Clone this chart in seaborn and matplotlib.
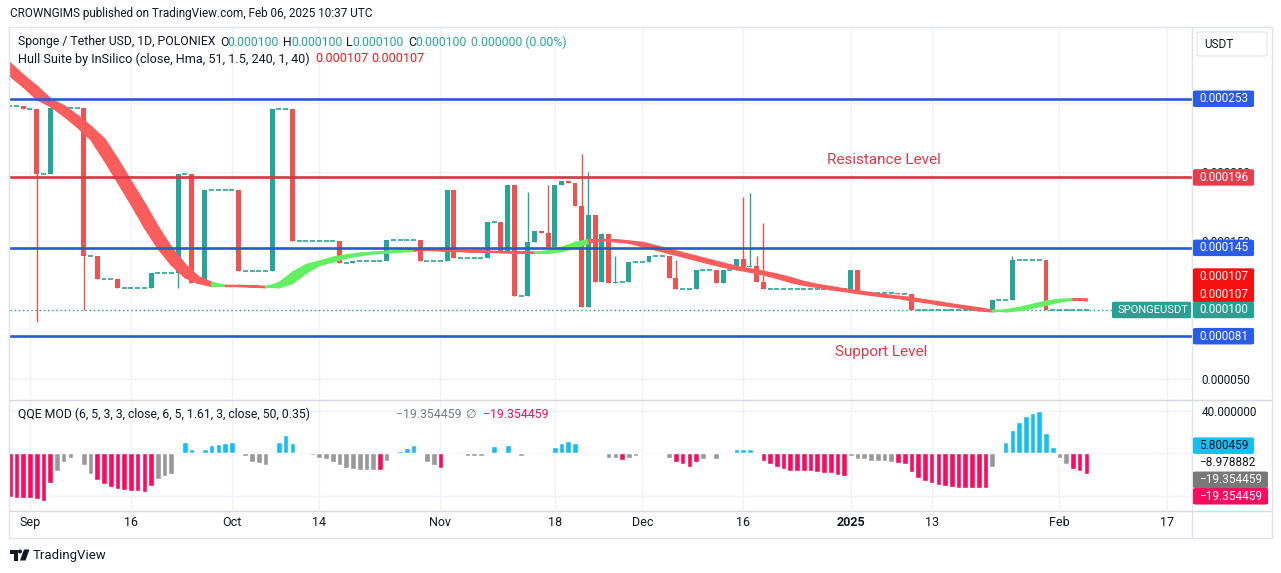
import numpy as np
import pandas as pd
import matplotlib
matplotlib.use("Agg")
import matplotlib.pyplot as plt
import seaborn as sns
from matplotlib.patches import Rectangle, FancyBboxPatch, Polygon, Ellipse
from matplotlib.lines import Line2D

W, H = 1281, 573

# days counted from 1 Sep 2024 (= 0), prices in millionths of a USDT
candle_day = [-1, 1, 3, 8, 10, 13, 18, 22, 24, 26, 31, 36, 39, 46, 48, 53, 58, 62, 63, 68,
              70, 71, 72, 74, 75, 76, 77, 78, 79, 80, 81, 82, 83, 84, 85, 86, 87, 89, 92, 95,
              96, 99, 102, 103, 105, 106, 107, 108, 109, 122, 123, 129, 131, 143, 146, 151]
candle_open = [248, 245.5, 198.3, 246.2, 139.3, 122.2, 115.7, 126.6, 198.5, 119.8, 187, 128.5, 245.7, 150.2, 133.8, 135.7, 150.7, 135.7, 187, 137.5,
               164, 141, 190.6, 110.4, 149.5, 157.5, 155.6, 145.4, 190.6, 193.5, 191.8, 175.6, 102.4, 168.8, 120.5, 155, 119.8, 120.5, 134.6, 139,
               123, 115.2, 129, 119.8, 129, 137, 131.4, 131.8, 120.5, 115, 129, 112.5, 111.5, 100, 107.2, 136.2]
candle_high = [248, 245.5, 246.2, 246.2, 139.3, 122.2, 126.6, 198.5, 198.5, 187, 187, 245.7, 245.7, 150.2, 135.7, 150.7, 150.7, 187, 187, 164,
               164, 190.6, 190.6, 185.7, 157.5, 157.5, 190.6, 190.6, 193.5, 193.5, 191.8, 213, 200.2, 168.8, 156, 155, 139, 134.6, 139, 139,
               136.2, 129, 129, 129, 137, 181.7, 185, 139, 163.3, 129, 129, 112.5, 111.5, 107.2, 139, 136.2]
candle_low = [245.5, 91.5, 198.3, 100, 122.2, 115.7, 115.7, 116.2, 119.8, 119.8, 128.5, 128.5, 150.2, 133.8, 133.8, 135.7, 135.7, 135.7, 137.5, 137.5,
              141, 141, 110.4, 110.4, 149.5, 155.6, 145.4, 145.4, 190.6, 191.8, 175.6, 102.4, 102.4, 120.5, 120.5, 119.8, 119.8, 120.5, 134.6, 123,
              115.2, 115.2, 119.8, 119.8, 129, 131.4, 131.4, 120.5, 115, 114.5, 112.5, 111.5, 100, 100, 107.2, 100]
candle_close = [245.5, 198.3, 246.2, 139.3, 122.2, 115.7, 126.6, 198.5, 119.8, 187, 128.5, 245.7, 150.2, 133.8, 135.7, 150.7, 135.7, 187, 137.5, 164,
                141, 190.6, 110.4, 149.5, 157.5, 155.6, 145.4, 190.6, 193.5, 191.8, 175.6, 102.4, 168.8, 120.5, 155, 119.8, 120.5, 134.6, 139, 123,
                115.2, 129, 119.8, 129, 137, 131.4, 131.8, 120.5, 115, 129, 112.5, 111.5, 100, 107.2, 136.2, 100]

# days with no trades (flat dojis)
flat_from = [-3, 0, 2, 4, 9, 11, 14, 19, 23, 25, 27, 32, 37, 40, 47, 49, 54, 59, 64, 69, 73, 88, 90, 93, 97, 100, 104, 110, 124, 130, 132, 144, 147, 152]
flat_to = [-2, 0, 2, 7, 9, 12, 17, 21, 23, 25, 30, 35, 38, 45, 47, 52, 57, 61, 67, 69, 73, 88, 91, 94, 98, 101, 104, 121, 128, 130, 142, 145, 150, 157]
flat_price = [248, 245.5, 198.3, 246.2, 139.3, 122.2, 115.7, 126.6, 198.5, 119.8, 187, 128.5, 245.7, 150.2, 133.8, 135.7, 150.7, 135.7, 137.5, 164,
              110.4, 120.5, 134.6, 139, 115.2, 129, 129, 115, 112.5, 111.5, 100, 107.2, 136.2, 100]

# Hull Suite, read every second day
hull_day = list(range(-5, 158, 2))
hull_val = [279, 270, 262, 253, 248, 241, 233, 224, 209, 193, 177, 160, 145, 133, 124, 120, 117.6, 117.9, 117.6, 117.2,
            116.8, 120, 127.5, 133, 135.5, 138.3, 140, 141.3, 142, 142.6, 143.3, 144, 143.8, 143.5, 143, 142.8, 142.5, 142.3, 142, 141.8,
            141.7, 143, 145.5, 149, 151.2, 151, 150, 149, 146.5, 144, 141.5, 139, 136.5, 134, 131.6, 129.8, 128, 126, 123.5, 120.6,
            118.5, 117, 115.3, 114, 112.5, 111.2, 110, 109, 107.3, 106, 104.3, 103, 101.5, 100, 99.3, 100.2, 102, 104.2, 106.5, 107.8,
            108.2, 107.2]

levels_blue = [253, 145, 81]
level_red = 196

# QQE MOD histogram, one bar per day from day -3
qqe_day = list(range(-3, 158))
qqe_val = [-41, -42, -42, -42, -43.5, -45, -28, -16.5, -8, -4, 0, -11, -19.5,
           -25.5, -29, -31.5, -34, -34.5, -35.5, -36, -36.5, -31, -24, -21, -20,
           0, 11, 4, 0, 4, 8, 9, 9.5, 11, 0,
           -3, -8, -9.5, -11.5, 0, 11, 17.5, 9.5, 0, 0,
           -2, -4.5, -5.5, -8, -11.5, -14, -15, -16, -16, -16, -16, -7,
           0, 2.5, 5, 8, 0, -8, -11.5, -13.5,
           0, 0, 0, -3, -3, -3, 0, 7, 0, 8, 0, -2.5,
           0, 0, 0, 0, 5.5, 9.5, 11.5, 10, 0, 0, 0, 0,
           -4, -4, -6, -4, -3, 0, 0, 0, 0,
           -4, -8, -10.5, -12.5, -8, -5, 0, -5, 0, 0, 4, 4, 4, 0,
           -7.5, -10.5, -12.5, -15, -16.5, -16.5, -16.5, -17, -18, -18.5, -18.5, -20.5, -21.5,
           -3, -5, -5.5, -7, -7, -7, -8,
           -9, -10, -17.5, -23, -26, -28.5, -29.5, -31, -32, -33, -33, -33, -33, -33,
           -12.5, 0, 11, 22, 30, 35, 38.5, 40, 19.5, 6,
           -4, -10, -14.5, -16.5, -19.35]
qqe_kind = ("ppppppp" + "gggggg" + "ppppppppp" + "ggg" + "gbbgbbbbbg" + "gggggbbbgg" +
            "ggggggggggpg" + "gbbbgggp" + "gggggggbgbgg" + "ggggbbbbgggg" + "ggpgggggg" +
            "gppppggggg" + "bbbg" + "p" * 13 + "g" * 7 + "p" * 14 + "ggbbbbbbbb" + "ggppp")

tick_days = [0, 15, 30, 43, 61, 78, 91, 106, 122, 134, 153, 169]
tick_labels = ["Sep", "16", "Oct", "14", "Nov", "18", "Dec", "16", "2025", "13", "Feb", "17"]

TEAL = "#26a69a"
RED = "#ef5350"
HULL_RED = "#fb5c5c"
HULL_GREEN = "#62f062"
BLUE = "#2b57d9"
LINE_RED = "#d9343f"
GRID = "#f0f3fa"
TXT = "#131722"
QQE_COLORS = {"p": "#fc0a5e", "g": "#999999", "b": "#13bff3"}

sns.set_style("white")
plt.rcParams["font.family"] = ["Roboto", "DejaVu Sans"]

fig = plt.figure(figsize=(W / 100, H / 100), dpi=100)
fig.patch.set_facecolor("white")


def fx(px):
    return px / W


def fy(py):
    return 1 - py / H


ax = fig.add_axes([fx(10), fy(399), (1192 - 10) / W, (399 - 27) / H])
ax2 = fig.add_axes([fx(10), fy(510), (1192 - 10) / W, (510 - 400) / H])

XL = (-2.97, 172.7)

# ---- price panel
ax.set_xlim(*XL)
ax.set_ylim(35.5, 305)
ax.set_xticks(tick_days)
ax.set_yticks([50, 100, 150, 200, 250])
# 0.000100 and 0.000250 sit fully under the tags in the reference
ax.set_yticklabels(["0.000050", "", "0.000150", "0.000200", ""])
ax.yaxis.tick_right()
ax.tick_params(axis="y", length=0, pad=7, labelsize=8.5, labelcolor=TXT)
ax.tick_params(axis="x", length=0, labelbottom=False)
ax.grid(True, color=GRID, lw=1)
for s in ax.spines.values():
    s.set_visible(False)

ax.axhline(100, color=TEAL, lw=1, ls=(0, (1, 2)), zorder=2)

# dojis
for a, b, p in zip(flat_from, flat_to, flat_price):
    days = np.arange(a, b + 1)
    ax.hlines([p] * len(days), days - 0.37, days + 0.37, color=TEAL, lw=1.2, zorder=3)

cd = np.array(candle_day)
co = np.array(candle_open)
cc = np.array(candle_close)
ch = np.array(candle_high)
cl = np.array(candle_low)
ccol = np.where(cc >= co, TEAL, RED)
ax.vlines(cd, cl, ch, colors=ccol, lw=1, zorder=3)
body = np.where(np.abs(cc - co) < 0.8, 0.8 * np.sign(cc - co + 1e-9), cc - co)
ax.bar(cd, body, bottom=co, width=0.74, color=ccol, lw=0, zorder=3)

# Hull band: hull vs hull two days back
hd = np.array(hull_day, dtype=float)
hv = np.array(hull_val, dtype=float)
for i in range(1, len(hd) - 1):
    col = HULL_GREEN if hv[i + 1] > hv[i] else HULL_RED
    ax.fill_between(hd[i:i + 2], hv[i:i + 2], hv[i - 1:i + 1], color=col, lw=1.6, ec=col, zorder=4)

for lv in levels_blue:
    ax.axhline(lv, color=BLUE, lw=1.9, zorder=6)
ax.axhline(level_red, color=LINE_RED, lw=1.9, zorder=6)

ax.text(126.9, 209, "Resistance Level", color="#e2394a", fontsize=11, ha="center", va="center", zorder=7)
ax.text(126.5, 69.6, "Support Level", color="#e2394a", fontsize=11, ha="center", va="center", zorder=7)

# ---- QQE panel
qqe = pd.DataFrame({"day": qqe_day, "val": qqe_val, "kind": list(qqe_kind)})
sns.barplot(data=qqe, x="day", y="val", hue="kind", palette=QQE_COLORS, native_scale=True,
            dodge=False, width=0.84, saturation=1, errorbar=None, legend=False, ax=ax2, zorder=3)
ax2.set_xlim(*XL)
ax2.set_ylim(-53.6, 50.4)
ax2.set_xlabel("")
ax2.set_ylabel("")
ax2.set_xticks(tick_days)
ax2.set_xticklabels(tick_labels)
ax2.tick_params(axis="x", length=0, pad=4, labelsize=9, labelcolor=TXT)
ax2.get_xticklabels()[8].set_fontweight("bold")
ax2.set_yticks([-40, 0, 40])
ax2.set_yticklabels(["", "", "40.000000"])
ax2.yaxis.tick_right()
ax2.tick_params(axis="y", length=0, pad=7, labelsize=8.5, labelcolor=TXT)
ax2.grid(True, color=GRID, lw=1)
ax2.set_axisbelow(True)
for s in ax2.spines.values():
    s.set_visible(False)

# ---- frame and separators
fig.add_artist(Rectangle((fx(9), fy(538)), (1272 - 9) / W, (538 - 27) / H, transform=fig.transFigure,
                         fill=False, ec="#e0e3eb", lw=1))
for y in (399.5, 510.5):
    fig.add_artist(Line2D([fx(9), fx(1272)], [fy(y), fy(y)], color="#d6d9e0", lw=1))
fig.add_artist(Line2D([fx(1192), fx(1192)], [fy(27), fy(538)], color="#e0e3eb", lw=1))


def ypix(a, v):
    return H - a.transData.transform((0, v))[1]


def tag(yp, text, fc, tc="white", x0=1193, w=61, h=16.5, fs=8.5):
    fig.add_artist(FancyBboxPatch((fx(x0), fy(yp + h / 2)), w / W, h / H, transform=fig.transFigure,
                                  boxstyle="round,pad=0,rounding_size=0.002", fc=fc, ec="none", zorder=8))
    fig.text(fx(x0 + 6), fy(yp), text, color=tc, fontsize=fs, va="center", ha="left", zorder=9,
             linespacing=1.45)


fig.draw_without_rendering()
tag(ypix(ax, 253), "0.000253", "#2a5ce8")
tag(ypix(ax, 196), "0.000196", "#e53d4c")
tag(ypix(ax, 145), "0.000145", "#2a5ce8")
tag(ypix(ax, 107) - 15, "0.000107\n0.000107", "#f70f0f", h=34)
tag(ypix(ax, 100), "0.000100", "#22a394")
tag(ypix(ax, 100), "SPONGEUSDT", "#22a394", x0=1112, w=79, fs=8)
tag(ypix(ax, 81), "0.000081", "#2a5ce8")
tag(ypix(ax2, 5.8) - 1.5, "5.800459", "#13bff3", tc=TXT)
fig.text(fx(1199), fy(ypix(ax2, -8.98)), "\u22128.978882", color=TXT, fontsize=8.5, va="center")
tag(ypix(ax2, -19.35) + 6, "\u221219.354459", "#787878", w=75)
tag(ypix(ax2, -19.35) + 22.5, "\u221219.354459", "#fc0a5e", w=75)

# USDT box
fig.add_artist(FancyBboxPatch((fx(1197), fy(56)), 70 / W, 24 / H, transform=fig.transFigure,
                              boxstyle="round,pad=0,rounding_size=0.003", fc="white", ec="#e8eaef", lw=1))
fig.text(fx(1204), fy(44), "USDT", color=TXT, fontsize=8.5, va="center")

# ---- header and legends
fig.text(fx(10), fy(14), "CROWNGIMS published on TradingView.com, Feb 06, 2025 10:37 UTC",
         color=TXT, fontsize=8.5, va="center")

legend1 = [("Sponge / Tether USD, 1D, POLONIEX", 18, TXT), ("O", 220, TXT), ("0.000100", 227, TEAL),
           ("H", 283, TXT), ("0.000100", 291, TEAL), ("L", 346, TXT), ("0.000100", 352, TEAL),
           ("C", 408, TXT), ("0.000100", 415, TEAL), ("0.000000 (0.00%)", 471, TEAL)]
for t, x, c in legend1:
    fig.text(fx(x), fy(42), t, color=c, fontsize=8.8, va="center")
legend2 = [("Hull Suite by InSilico (close, Hma, 51, 1.5, 240, 1, 40)", 18, TXT),
           ("0.000107", 315, "#f21d1d"), ("0.000107", 371, "#f21d1d")]
for t, x, c in legend2:
    fig.text(fx(x), fy(59), t, color=c, fontsize=9.1, va="center")
legend3 = [("QQE MOD (6, 5, 3, 3, close, 6, 5, 1.61, 3, close, 50, 0.35)", 18, TXT),
           ("\u221219.354459", 396, "#787b86"), ("\u2205", 465, "#787b86"), ("\u221219.354459", 483, "#fc0a5e")]
for t, x, c in legend3:
    fig.text(fx(x), fy(414), t, color=c, fontsize=8.8, va="center")

# TradingView logo
fig.add_artist(Polygon([(fx(10), fy(549.5)), (fx(17.5), fy(549.5)), (fx(17.5), fy(560.5)), (fx(14), fy(560.5)),
                        (fx(14), fy(553.5)), (fx(10), fy(553.5))], closed=True, transform=fig.transFigure,
                       fc=TXT, ec="none"))
fig.add_artist(Ellipse((fx(20), fy(551.5)), 4 / W, 4 / H, transform=fig.transFigure, fc=TXT, ec="none"))
fig.add_artist(Polygon([(fx(24), fy(549.5)), (fx(29.5), fy(549.5)), (fx(25.5), fy(560.5)), (fx(20), fy(560.5))],
                       closed=True, transform=fig.transFigure, fc=TXT, ec="none"))
fig.text(fx(33), fy(555), "TradingView", color=TXT, fontsize=9.5, va="center")

fig.savefig("out.png", dpi=100, facecolor="white")
